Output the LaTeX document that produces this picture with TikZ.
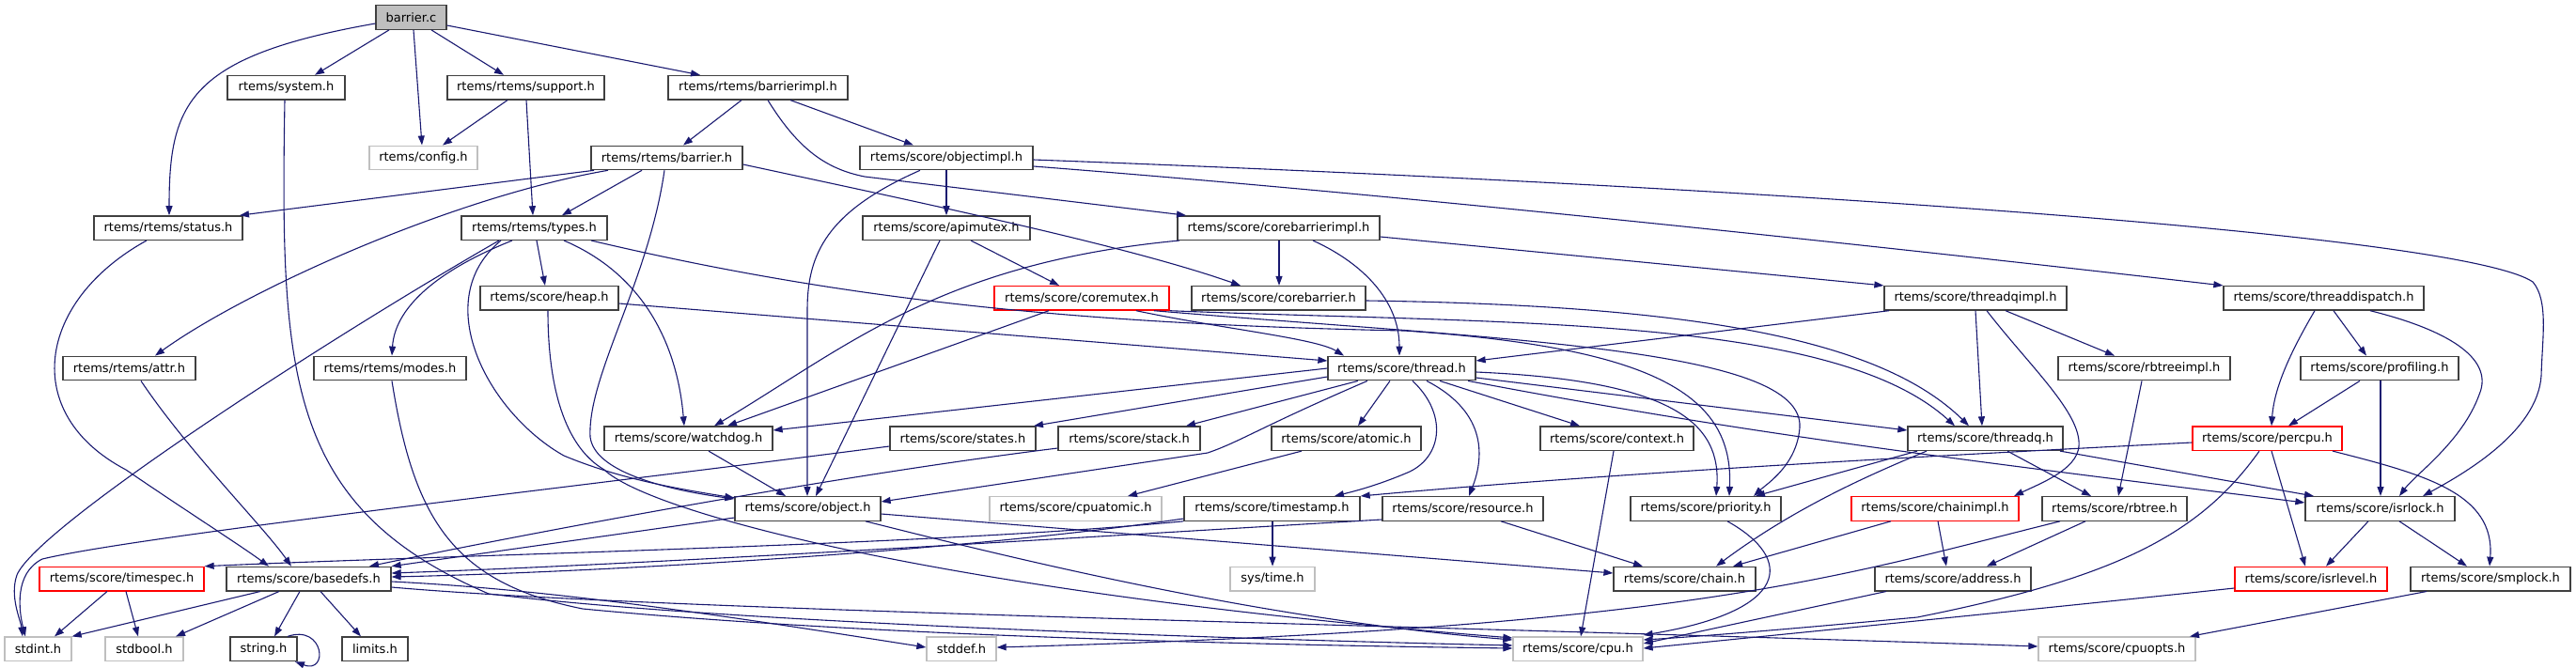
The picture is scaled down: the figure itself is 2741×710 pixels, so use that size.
\documentclass[tikz,border=0pt]{standalone}
\usepackage{fontspec}
\setmainfont{DejaVu Sans}
\usetikzlibrary{arrows.meta}
\definecolor{edgec}{HTML}{191970}
\definecolor{nodeb}{HTML}{404040}
\definecolor{grayb}{HTML}{BFBFBF}
\definecolor{redb}{HTML}{FF0000}
\definecolor{rootf}{HTML}{BFBFBF}
\tikzset{
  nd/.style={draw=nodeb, line width=1.3pt, minimum height=25.5pt, inner sep=0pt, font=\fontsize{13}{15}\selectfont, anchor=center},
  gr/.style={nd, draw=grayb},
  rd/.style={nd, draw=redb},
  root/.style={nd, fill=rootf},
  e/.style={draw=edgec, line width=1.1pt, -{Triangle[length=10pt,width=7pt]}}
}
\begin{document}
\begin{tikzpicture}[x=1pt,y=-1pt]
\useasboundingbox (0,0) rectangle (2741,710);
% row 0
\node[root, minimum width=75pt] (barrierc) at (437.5,18.5) {barrier.c};
% row 1
\node[nd, minimum width=125pt] (system) at (304.5,93.2) {rtems/system.h};
\node[nd, minimum width=167pt] (support) at (559.5,93.2) {rtems/rtems/support.h};
\node[nd, minimum width=191pt] (barrierimpl) at (806.5,93.2) {rtems/rtems/barrierimpl.h};
% row 2
\node[gr, minimum width=115pt] (config) at (450.5,167.9) {rtems/config.h};
\node[nd, minimum width=161pt] (barrier) at (709.5,167.9) {rtems/rtems/barrier.h};
\node[nd, minimum width=184pt] (objectimpl) at (1007,167.9) {rtems/score/objectimpl.h};
% row 3
\node[nd, minimum width=158pt] (status) at (179,242.6) {rtems/rtems/status.h};
\node[nd, minimum width=155pt] (types) at (568.5,242.6) {rtems/rtems/types.h};
\node[nd, minimum width=178pt] (apimutex) at (1007,242.6) {rtems/score/apimutex.h};
\node[nd, minimum width=215pt] (corebarrierimpl) at (1360.5,242.6) {rtems/score/corebarrierimpl.h};
% row 4
\node[nd, minimum width=147pt] (heap) at (584.5,317.3) {rtems/score/heap.h};
\node[rd, minimum width=186pt] (coremutex) at (1151,317.3) {rtems/score/coremutex.h};
\node[nd, minimum width=185pt] (corebarrier) at (1360.5,317.3) {rtems/score/corebarrier.h};
\node[nd, minimum width=194pt] (threadqimpl) at (2102,317.3) {rtems/score/threadqimpl.h};
\node[nd, minimum width=213pt] (threaddispatch) at (2472.5,317.3) {rtems/score/threaddispatch.h};
% row 5
\node[nd, minimum width=141pt] (attr) at (137.5,392) {rtems/rtems/attr.h};
\node[nd, minimum width=162pt] (modes) at (415,392) {rtems/rtems/modes.h};
\node[nd, minimum width=157pt] (thread) at (1491.5,392) {rtems/score/thread.h};
\node[nd, minimum width=183pt] (rbtreeimpl) at (2281.5,392) {rtems/score/rbtreeimpl.h};
\node[nd, minimum width=168pt] (profiling) at (2532,392) {rtems/score/profiling.h};
% row 6
\node[nd, minimum width=179pt] (watchdog) at (732.5,466.7) {rtems/score/watchdog.h};
\node[nd, minimum width=155pt] (states) at (1024.5,466.7) {rtems/score/states.h};
\node[nd, minimum width=151pt] (stack) at (1201.5,466.7) {rtems/score/stack.h};
\node[nd, minimum width=159pt] (atomic) at (1432.5,466.7) {rtems/score/atomic.h};
\node[nd, minimum width=163pt] (context) at (1720.5,466.7) {rtems/score/context.h};
\node[nd, minimum width=165pt] (threadq) at (2112.5,466.7) {rtems/score/threadq.h};
\node[rd, minimum width=159pt] (percpu) at (2412.5,466.7) {rtems/score/percpu.h};
% row 7
\node[nd, minimum width=155pt] (object) at (859.5,541.4) {rtems/score/object.h};
\node[gr, minimum width=183pt] (cpuatomic) at (1144.5,541.4) {rtems/score/cpuatomic.h};
\node[nd, minimum width=187pt] (timestamp) at (1353.5,541.4) {rtems/score/timestamp.h};
\node[nd, minimum width=171pt] (resource) at (1556.5,541.4) {rtems/score/resource.h};
\node[nd, minimum width=160pt] (priority) at (1815,541.4) {rtems/score/priority.h};
\node[rd, minimum width=178pt] (chainimpl) at (2059,541.4) {rtems/score/chainimpl.h};
\node[nd, minimum width=154pt] (rbtree) at (2250,541.4) {rtems/score/rbtree.h};
\node[nd, minimum width=159pt] (isrlock) at (2532.5,541.4) {rtems/score/isrlock.h};
% row 8
\node[rd, minimum width=175pt] (timespec) at (129.5,616.1) {rtems/score/timespec.h};
\node[nd, minimum width=175pt] (basedefs) at (328.5,616.1) {rtems/score/basedefs.h};
\node[gr, minimum width=90pt] (systime) at (1354,616.1) {sys/time.h};
\node[nd, minimum width=151pt] (chain) at (1792.5,616.1) {rtems/score/chain.h};
\node[nd, minimum width=166pt] (address) at (2078,616.1) {rtems/score/address.h};
\node[rd, minimum width=162pt] (isrlevel) at (2459,616.1) {rtems/score/isrlevel.h};
\node[nd, minimum width=170pt] (smplock) at (2650,616.1) {rtems/score/smplock.h};
% row 9
\node[gr, minimum width=71pt] (stdint) at (40.5,690.8) {stdint.h};
\node[gr, minimum width=83pt] (stdbool) at (153.5,690.8) {stdbool.h};
\node[nd, minimum width=71pt] (string) at (280.5,690.8) {string.h};
\node[nd, minimum width=70pt] (limits) at (399,690.8) {limits.h};
\node[gr, minimum width=74pt] (stddef) at (1023,690.8) {stddef.h};
\node[gr, minimum width=138pt] (cpu) at (1679,690.8) {rtems/score/cpu.h};
\node[gr, minimum width=167pt] (cpuopts) at (2252.5,690.8) {rtems/score/cpuopts.h};

% ---- edges ----
\draw[e] (barrierc.west |- 0,25) .. controls (200,60) and (180,110) .. (status.north -| 180,0);
\draw[e] (barrierc.south -| 414,0) -- (system.north -| 335,0);
\draw[e] (barrierc.south -| 440,0) -- (config.north -| 449,0);
\draw[e] (barrierc.south -| 459,0) -- (support.north -| 536,0);
\draw[e] (barrierc.east |- 0,27) -- (barrierimpl.north -| 745,0);
\draw[e] (system.south -| 303,0) .. controls (298,400) and (305,540) .. (520,632) .. controls (760,662) and (1300,680) .. (cpu.west |- 0,687);
\draw[e] (support.south -| 540,0) -- (config.north -| 471,0);
\draw[e] (support.south -| 560,0) -- (types.north -| 567,0);
\draw[e] (barrierimpl.south -| 789,0) -- (barrier.north -| 727,0);
\draw[e] (barrierimpl.south -| 841,0) -- (objectimpl.north -| 972,0);
\draw[e] (barrierimpl.south -| 817,0) .. controls (850,160) and (880,180) .. (920,188) -- (corebarrierimpl.north -| 1262,0);
\draw[e] (barrier.south -| 632,0) -- (status.north -| 255,0);
\draw[e] (barrier.south -| 647,0) .. controls (480,210) and (260,310) .. (attr.north -| 165,0);
\draw[e] (barrier.south -| 683,0) -- (types.north -| 598,0);
\draw[e] (barrier.south -| 707,0) .. controls (690,300) and (625,400) .. (628,465) .. controls (632,500) and (700,520) .. (object.west |- 0,531);
\draw[e] (barrier.east |- 0,175) .. controls (1000,220) and (1200,262) .. (corebarrier.north -| 1320,0);
\draw[e] (objectimpl.south -| 1007,0) -- (apimutex.north -| 1007,0);
\draw[e] (objectimpl.south -| 979,0) .. controls (880,225) and (859,270) .. (859,330) -- (object.north -| 859,0);
\draw[e] (objectimpl.east |- 0,177) .. controls (1500,208) and (2000,262) .. (threaddispatch.north west);
\draw[e] (objectimpl.east |- 0,170) .. controls (1900,200) and (2620,250) .. (2695,300) .. controls (2712,320) and (2705,360) .. (2704,400) .. controls (2700,460) and (2620,505) .. (isrlock.north -| 2578,0);
\draw[e] (apimutex.south -| 1033,0) -- (coremutex.north -| 1127,0);
\draw[e] (apimutex.south -| 1000,0) -- (object.north -| 868,0);
\draw[e] (corebarrierimpl.south -| 1361,0) -- (corebarrier.north -| 1361,0);
\draw[e] (corebarrierimpl.south -| 1397,0) .. controls (1450,280) and (1489,320) .. (thread.north -| 1489,0);
\draw[e] (corebarrierimpl.east |- 0,252) -- (threadqimpl.north west);
\draw[e] (corebarrierimpl.south -| 1255,0) .. controls (1000,280) and (900,370) .. (watchdog.north -| 760,0);
\draw[e] (coremutex.south -| 1116,0) -- (watchdog.north -| 774,0);
\draw[e] (coremutex.south -| 1209,0) .. controls (1300,350) and (1400,360) .. (thread.north -| 1430,0);
\draw[e] (coremutex.south east) .. controls (1600,345) and (1950,335) .. (threadq.north -| 2080,0);
\draw[e] (coremutex.south -| 1228,0) .. controls (1600,362) and (1920,370) .. (1915,455) .. controls (1912,495) and (1880,515) .. (priority.north -| 1866,0);
\draw[e] (corebarrier.east |- 0,320) .. controls (1800,325) and (2000,360) .. (threadq.north -| 2095,0);
% thread.h
\draw[e] (thread.west |- 0,392) -- (watchdog.east |- 0,458);
\draw[e] (thread.west |- 0,401) -- (states.north -| 1100,0);
\draw[e] (thread.south -| 1445,0) -- (stack.north -| 1262,0);
\draw[e] (thread.south -| 1455,0) .. controls (1340,455) and (1320,470) .. (1285,482) -- (object.east |- 0,534);
\draw[e] (thread.south -| 1479,0) -- (atomic.north -| 1445,0);
\draw[e] (thread.south -| 1503,0) .. controls (1540,440) and (1535,485) .. (1500,502) .. controls (1470,515) and (1445,522) .. (timestamp.north -| 1420,0);
\draw[e] (thread.south -| 1518,0) .. controls (1585,440) and (1578,490) .. (resource.north -| 1563,0);
\draw[e] (thread.south -| 1532,0) -- (context.north -| 1681,0);
\draw[e] (thread.east |- 0,396) .. controls (1780,405) and (1832,450) .. (priority.north -| 1826,0);
\draw[e] (thread.east |- 0,402) -- (threadq.west |- 0,458);
\draw[e] (thread.south -| 1562,0) .. controls (1850,460) and (2050,485) .. (isrlock.west |- 0,535);
% threadqimpl / threaddispatch
\draw[e] (threadqimpl.south -| 2010,0) -- (thread.east |- 0,384);
\draw[e] (threadqimpl.south -| 2102,0) -- (threadq.north -| 2109,0);
\draw[e] (threadqimpl.south -| 2114,0) .. controls (2160,390) and (2215,440) .. (2212,475) .. controls (2210,500) and (2170,515) .. (chainimpl.north -| 2143,0);
\draw[e] (threadqimpl.south -| 2134,0) -- (rbtreeimpl.north -| 2250,0);
\draw[e] (threaddispatch.south -| 2463,0) .. controls (2440,370) and (2420,410) .. (percpu.north -| 2417,0);
\draw[e] (threaddispatch.south -| 2483,0) -- (profiling.north -| 2518,0);
\draw[e] (threaddispatch.south -| 2522,0) .. controls (2600,350) and (2655,380) .. (2638,420) .. controls (2620,470) and (2570,505) .. (isrlock.north -| 2553,0);
\draw[e] (rbtreeimpl.south -| 2279,0) -- (rbtree.north -| 2254,0);
\draw[e] (profiling.south -| 2511,0) -- (percpu.north -| 2435,0);
\draw[e] (profiling.south -| 2533,0) -- (isrlock.north -| 2533,0);
% percpu
\draw[e] (percpu.west |- 0,471) .. controls (2000,488) and (1700,505) .. (timestamp.north east);
\draw[e] (percpu.south -| 2404,0) .. controls (2340,570) and (2250,615) .. (2040,657) .. controls (1900,670) and (1800,678) .. (cpu.east |- 0,681);
\draw[e] (percpu.south -| 2417,0) -- (isrlevel.north -| 2453,0);
\draw[e] (percpu.south -| 2482,0) .. controls (2580,505) and (2655,525) .. (smplock.north -| 2649,0);
\draw[e] (isrlock.south -| 2520,0) -- (isrlevel.north -| 2475,0);
\draw[e] (isrlock.south -| 2553,0) -- (smplock.north -| 2625,0);
\draw[e] (isrlevel.west |- 0,626) .. controls (2200,645) and (1900,675) .. (cpu.east |- 0,690);
\draw[e] (smplock.south -| 2582,0) -- (cpuopts.north -| 2330,0);
% rbtree / chainimpl / threadq
\draw[e] (rbtree.south -| 2192,0) .. controls (1950,615) and (1800,668) .. (stddef.east |- 0,689);
\draw[e] (rbtree.south -| 2219,0) -- (address.north -| 2114,0);
\draw[e] (chainimpl.south -| 2012,0) -- (chain.north -| 1844,0);
\draw[e] (chainimpl.south -| 2062,0) -- (address.north -| 2071,0);
\draw[e] (threadq.south -| 2050,0) .. controls (1990,505) and (1910,540) .. (chain.north -| 1826,0);
\draw[e] (threadq.south -| 2040,0) -- (priority.north -| 1868,0);
\draw[e] (threadq.south -| 2136,0) -- (rbtree.north -| 2225,0);
\draw[e] (threadq.south -| 2192,0) -- (isrlock.north -| 2462,0);
\draw[e] (context.south -| 1717,0) -- (cpu.north -| 1682,0);
\draw[e] (priority.south -| 1838,0) .. controls (1910,595) and (1905,650) .. (cpu.east |- 0,676);
\draw[e] (resource.south -| 1597,0) -- (chain.north -| 1748,0);
\draw[e] (resource.west |- 0,553) .. controls (1100,575) and (700,600) .. (basedefs.east |- 0,610);
\draw[e] (address.south -| 2007,0) -- (cpu.east |- 0,685);
% timestamp
\draw[e] (timestamp.south west) .. controls (1000,580) and (500,590) .. (timespec.north east);
\draw[e] (timestamp.west |- 0,552) .. controls (1000,590) and (600,610) .. (basedefs.east |- 0,614);
\draw[e] (timestamp.south -| 1354,0) -- (systime.north -| 1354,0);
% object etc
\draw[e] (object.east |- 0,547) -- (chain.west |- 0,610);
\draw[e] (object.south -| 921,0) .. controls (1100,600) and (1350,660) .. (cpu.west |- 0,681);
\draw[e] (object.west |- 0,551) -- (basedefs.north east);
\draw[e] (watchdog.south -| 754,0) -- (object.north -| 836,0);
\draw[e] (atomic.south -| 1385,0) -- (cpuatomic.north -| 1200,0);
\draw[e] (states.west |- 0,475) .. controls (600,520) and (150,570) .. (45,595) .. controls (15,610) and (20,650) .. (stdint.north -| 27,0);
\draw[e] (stack.west |- 0,477) .. controls (900,505) and (600,560) .. (basedefs.north -| 393,0);
% types / heap
\draw[e] (types.south -| 531,0) .. controls (350,360) and (40,560) .. (18,612) .. controls (10,635) and (22,660) .. (stdint.north -| 24,0);
\draw[e] (types.south -| 571,0) -- (heap.north -| 580,0);
\draw[e] (types.south -| 545,0) .. controls (460,290) and (420,330) .. (modes.north -| 417,0);
\draw[e] (types.south -| 533,0) .. controls (455,320) and (520,440) .. (600,485) .. controls (660,510) and (720,520) .. (object.west |- 0,530);
\draw[e] (types.south -| 600,0) .. controls (680,290) and (720,360) .. (watchdog.north -| 728,0);
\draw[e] (types.south -| 629,0) .. controls (900,320) and (1150,345) .. (1494,352) .. controls (1760,370) and (1845,420) .. (priority.north -| 1840,0);
\draw[e] (heap.south -| 583,0) .. controls (583,410) and (600,475) .. (643,500) .. controls (690,545) and (1000,630) .. (cpu.west |- 0,679);
\draw[e] (heap.east |- 0,323) -- (thread.west |- 0,384);
\draw[e] (modes.south -| 417,0) .. controls (440,550) and (480,620) .. (620,648) .. controls (900,675) and (1300,686) .. (cpu.west |- 0,690);
\draw[e] (status.south -| 156,0) .. controls (40,320) and (20,440) .. (134,500) .. controls (200,545) and (255,580) .. (basedefs.north -| 286,0);
\draw[e] (attr.south -| 150,0) .. controls (200,480) and (280,560) .. (basedefs.north -| 310,0);
% bottom
\draw[e] (timespec.south -| 114,0) -- (stdint.north -| 58,0);
\draw[e] (timespec.south -| 134,0) -- (stdbool.north -| 147,0);
\draw[e] (basedefs.south -| 277,0) -- (stdint.north east);
\draw[e] (basedefs.south -| 297,0) -- (stdbool.north -| 187,0);
\draw[e] (basedefs.south -| 319,0) -- (string.north -| 292,0);
\draw[e] (basedefs.south -| 341,0) -- (limits.north -| 384,0);
\draw[e] (basedefs.east |- 0,619) .. controls (600,628) and (800,660) .. (stddef.west |- 0,689);
\draw[e] (basedefs.east |- 0,625) .. controls (700,650) and (1500,665) .. (cpuopts.west |- 0,688);
\draw[e] (string.north -| 306,0) .. controls (345,664) and (350,718) .. (string.south -| 314,0);
\end{tikzpicture}
\end{document}
